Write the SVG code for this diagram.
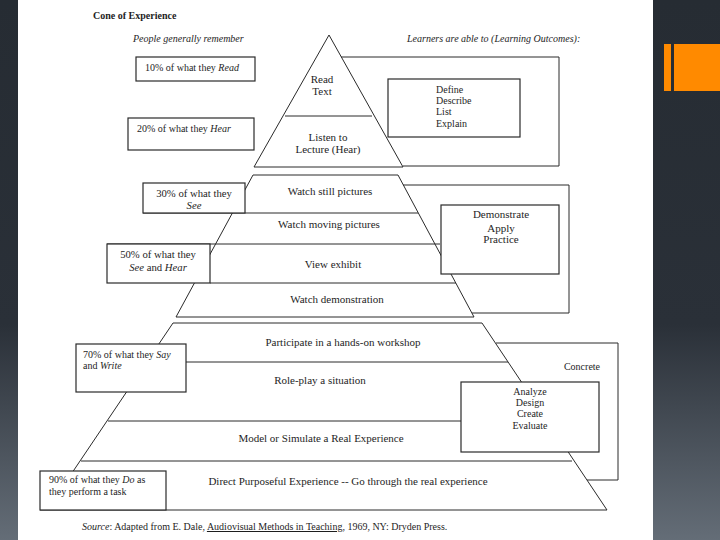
<svg xmlns="http://www.w3.org/2000/svg" width="720" height="540" viewBox="0 0 720 540">
<defs>
<linearGradient id="side" x1="0" y1="0" x2="0" y2="1">
<stop offset="0" stop-color="#262c33"/>
<stop offset="0.6" stop-color="#2a3038"/>
<stop offset="1" stop-color="#646d77"/>
</linearGradient>
<style>
text{font-family:"Liberation Serif","Times New Roman",serif;font-size:10px;fill:#1e1e1e}
.c{text-anchor:middle}
.i{font-style:italic}
.b{font-weight:bold}
.big{font-size:11px}
.m{font-size:10.7px}
.ln{stroke:#2a2a2a;stroke-width:1;fill:none}
.bx{stroke:#2a2a2a;stroke-width:1.2;fill:#fff}
</style>
</defs>
<rect x="0" y="0" width="720" height="540" fill="#fff"/>
<rect x="0" y="0" width="18" height="540" fill="url(#side)"/>
<rect x="653" y="0" width="67" height="540" fill="url(#side)"/>
<rect x="664" y="44" width="7" height="47" fill="#ff8a00"/>
<rect x="674" y="44" width="46" height="47" fill="#ff8a00"/>

<text x="93" y="19" class="b">Cone of Experience</text>
<text x="133" y="42" class="i">People generally remember</text>
<text x="407" y="42" class="i">Learners are able to (Learning Outcomes):</text>

<g id="connectors">
<polyline class="ln" points="254,167 329,35 403,167 254,167"/>
<line class="ln" x1="285" y1="116" x2="372" y2="116"/>
<polyline class="ln" points="341,57 559,57 559,166 403,166"/>
<polyline class="ln" points="176,317 253,175 398,175 474,317 176,317"/>
<line class="ln" x1="143" y1="213" x2="418" y2="213"/>
<line class="ln" x1="107" y1="244" x2="440" y2="244"/>
<line class="ln" x1="210" y1="283" x2="456" y2="283"/>
<polyline class="ln" points="403,185 569,185 569,313 472,313"/>
<polyline class="ln" points="47,510 173,323 482,323 607,510 40,510"/>
<line class="ln" x1="186" y1="362" x2="508" y2="362"/>
<line class="ln" x1="108" y1="421" x2="461" y2="421"/>
<line class="ln" x1="81" y1="461" x2="572" y2="461"/>
<polyline class="ln" points="496,343 618,343 618,480 587,480"/>
</g>

<g id="read-text">
<text x="322" y="83" class="c big">Read</text>
<text x="322" y="95" class="c big">Text</text>
</g>
<g id="listen-lecture">
<text x="328" y="141" class="c big">Listen to</text>
<text x="328" y="153" class="c big">Lecture (Hear)</text>
</g>
<g id="watch-still"><text x="330" y="195" class="c big">Watch still pictures</text></g>
<g id="watch-moving"><text x="329" y="228" class="c big">Watch moving pictures</text></g>
<g id="view-exhibit"><text x="333" y="268" class="c big">View exhibit</text></g>
<g id="watch-demo"><text x="337" y="303" class="c big">Watch demonstration</text></g>
<g id="participate"><text x="343" y="346" class="c big">Participate in a hands-on workshop</text></g>
<g id="role-play"><text x="320" y="384" class="c big">Role-play a situation</text></g>
<g id="model"><text x="321" y="442" class="c big">Model or Simulate a Real Experience</text></g>
<g id="direct"><text x="348" y="485" class="c big">Direct Purposeful Experience -- Go through the real experience</text></g>

<g id="box-10">
<rect class="bx" x="136" y="57" width="119" height="24"/>
<text x="145" y="71">10% of what they <tspan class="i">Read</tspan></text>
</g>
<g id="box-20">
<rect class="bx" x="128" y="118" width="126" height="32"/>
<text x="137" y="132">20% of what they  <tspan class="i">Hear</tspan></text>
</g>
<g id="box-30">
<rect class="bx" x="143" y="183" width="102" height="30"/>
<text x="194" y="197" class="c m">30% of what they</text>
<text x="194" y="209" class="c m i">See</text>
</g>
<g id="box-50">
<rect class="bx" x="107" y="244" width="103" height="39"/>
<text x="158" y="258" class="c m">50% of what they</text>
<text x="158" y="271" class="c m"><tspan class="i">See</tspan> and <tspan class="i">Hear</tspan></text>
</g>
<g id="box-70">
<rect class="bx" x="76" y="344" width="110" height="48"/>
<text x="83" y="358">70% of what they <tspan class="i">Say</tspan></text>
<text x="83" y="369">and <tspan class="i">Write</tspan></text>
</g>
<g id="box-90">
<rect class="bx" x="40" y="471" width="126" height="39"/>
<text x="49" y="483">90% of what they <tspan class="i">Do</tspan> as</text>
<text x="49" y="495">they perform a task</text>
</g>

<g id="outcome-define">
<rect class="bx" x="388" y="79" width="132" height="58"/>
<text x="436" y="93">Define</text>
<text x="436" y="104">Describe</text>
<text x="436" y="115">List</text>
<text x="436" y="127">Explain</text>
</g>
<g id="outcome-demonstrate">
<rect class="bx" x="441" y="205" width="118" height="69"/>
<text x="501" y="218" class="c big">Demonstrate</text>
<text x="501" y="232" class="c big">Apply</text>
<text x="501" y="243" class="c big">Practice</text>
</g>
<g id="outcome-analyze">
<rect class="bx" x="461" y="382" width="138" height="70"/>
<text x="530" y="395" class="c">Analyze</text>
<text x="530" y="406" class="c">Design</text>
<text x="530" y="417" class="c">Create</text>
<text x="530" y="429" class="c">Evaluate</text>
</g>
<g id="concrete"><text x="582" y="370" class="c">Concrete</text></g>

<text x="82" y="530"><tspan class="i">Source</tspan>:  Adapted from E. Dale, <tspan text-decoration="underline">Audiovisual Methods in Teaching</tspan>, 1969, NY: Dryden Press.</text>
</svg>
